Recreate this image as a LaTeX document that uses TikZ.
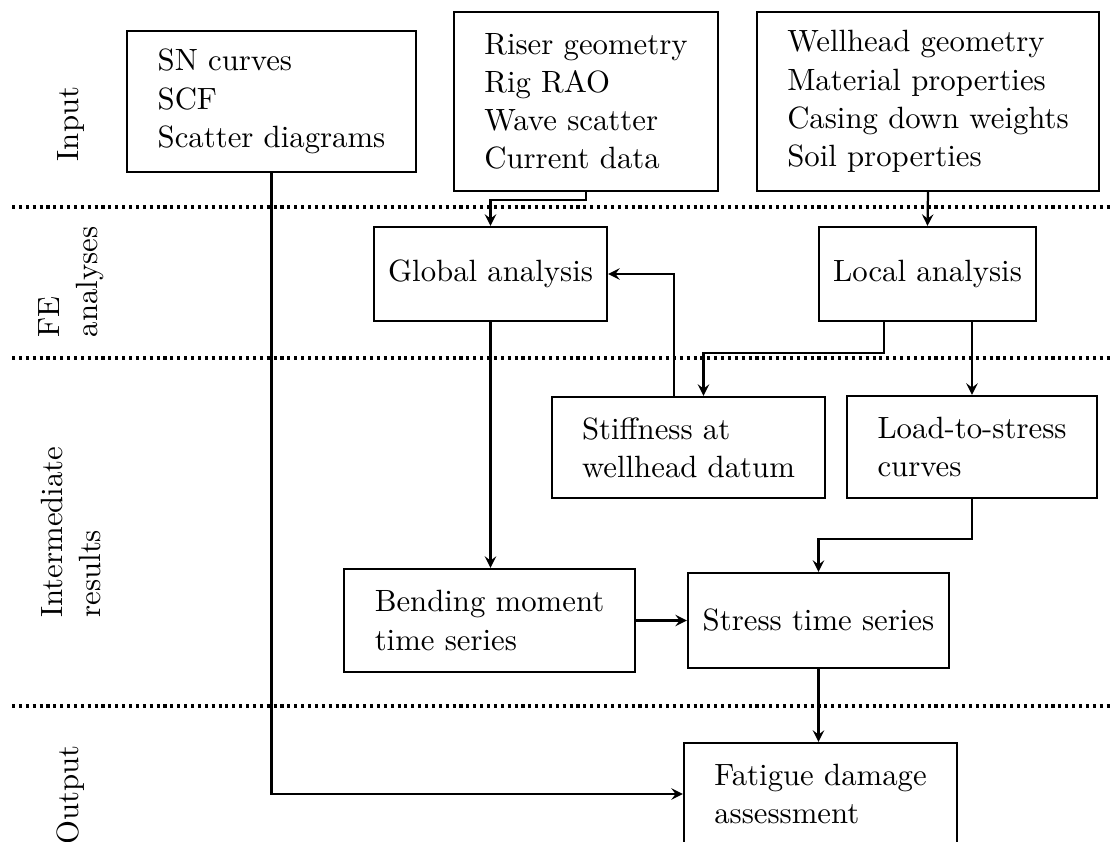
\documentclass[tikz,border=0pt,11pt]{standalone}
\usetikzlibrary{arrows}
\newdimen\pxu \pxu=0.3559pt
\tikzset{
  block/.style={draw, thick, align=left, inner sep=0pt},
  conn/.style={thick, ->, >=stealth},
  layer/.style={line width=1.2pt, dash pattern=on 1.1pt off 1.35pt},
  phase/.style={rotate=90, align=left}
}
\begin{document}
\begin{tikzpicture}[x=0.3559pt, y=-0.3559pt]
\useasboundingbox (0,0) rectangle (1110,842);

\foreach \ypos in {207,358,706}
  \draw[layer] (12,\ypos) -- (1110,\ypos);

\node[phase] (input) at (71,124) {Input};
\node[phase] (fe) at (71,282) {FE\\analyses};
\node[phase] (inter) at (71,532) {Intermediate\\results};
\node[phase] (output) at (71,795) {Output};

\node[block, minimum width=289*\pxu, minimum height=141*\pxu] (sn) at (271.5,101.5) {SN curves\\SCF\\Scatter diagrams};
\node[block, minimum width=264*\pxu, minimum height=179*\pxu] (riser) at (586,101.5) {Riser geometry\\Rig RAO\\Wave scatter\\Current data};
\node[block, minimum width=342*\pxu, minimum height=179*\pxu] (wellhead) at (928,101.5) {Wellhead geometry\\Material properties\\Casing down weights\\Soil properties};

\node[block, minimum width=233*\pxu, minimum height=94*\pxu] (global) at (490.5,274) {Global analysis};
\node[block, minimum width=217*\pxu, minimum height=94*\pxu] (local) at (927.5,274) {Local analysis};

\node[block, minimum width=273*\pxu, minimum height=101*\pxu] (stiffness) at (688.5,447.5) {Stiffness at\\wellhead datum};
\node[block, minimum width=250*\pxu, minimum height=102*\pxu] (loadstress) at (972,447) {Load-to-stress\\curves};

\node[block, minimum width=291*\pxu, minimum height=103*\pxu] (bending) at (489.5,620.5) {Bending moment\\time series};
\node[block, minimum width=261*\pxu, minimum height=95*\pxu] (stress) at (818.5,620.5) {Stress time series};

\node[block, minimum width=273*\pxu, minimum height=102*\pxu] (fatigue) at (820.5,794) {Fatigue damage\\assessment};

\draw[conn] (sn.south) |- (fatigue.west);
\draw[conn] (riser.south) -- ++(0,8) -| (global.north);
\draw[conn] (wellhead.south) -- (local.north);
\draw[conn] (global.south) -- (global.south |- bending.north);
\draw[conn] ([xshift=-43.5*\pxu]local.south) -- ++(0,31) -| ([xshift=15*\pxu]stiffness.north);
\draw[conn] (local.south -| loadstress.north) -- (loadstress.north);
\draw[conn] ([xshift=-14.5*\pxu]stiffness.north) |- (global.east);
\draw[conn] (loadstress.south) -- ++(0,40) -| (stress.north);
\draw[conn] (bending.east) -- (stress.west);
\draw[conn] (stress.south) -- (stress.south |- fatigue.north);
\end{tikzpicture}
\end{document}
